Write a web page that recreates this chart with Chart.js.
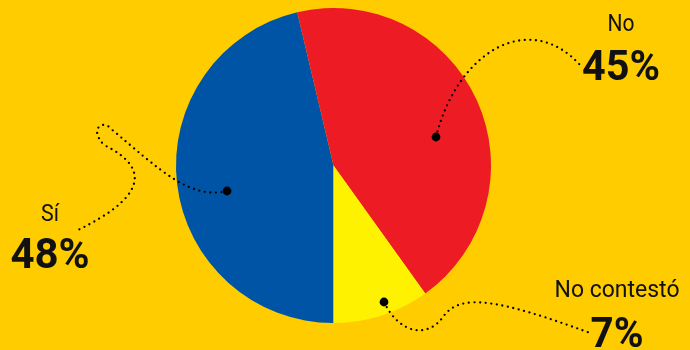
<!DOCTYPE html>
<html>
<head>
<meta charset="utf-8">
<script src="https://cdn.jsdelivr.net/npm/chart.js@4/dist/chart.umd.min.js"></script>
<style>
  html, body { margin: 0; padding: 0; background: #FFCC00; }
  canvas { display: block; }
</style>
</head>
<body>
<canvas id="pie" width="690" height="350"></canvas>
<script>
'use strict';

// DATA
const categories = ['Sí', 'No', 'No contestó'];
const labelPercents = [48, 45, 7];
// slice sizes as drawn in the picture (they do not follow the printed % exactly)
const sliceShares = [46.3, 43.8, 9.9];
const sliceColors = ['#0054A6', '#ED1C24', '#FFF200'];

// leader lines: dot, bezier segments, label block
const callouts = [
  {
    dot: [227, 191],
    path: [
      [[190, 200], [160, 170], [110, 128]],
      [[104, 120], [88, 128], [104, 145]],
      [[155, 170], [140, 200], [78, 230]],
    ],
    x: 50, nameY: 221, pctY: 268, nameW: 18, pctW: 80,
  },
  {
    dot: [436, 137],
    path: [
      [[458, 50], [530, 10], [580, 65]],
    ],
    x: 621, nameY: 31, pctY: 80, nameW: 27, pctW: 78,
  },
  {
    dot: [384, 302],
    path: [
      [[400, 335], [428, 338], [443, 317]],
      [[460, 292], [500, 300], [590, 333]],
    ],
    x: 617, nameY: 297, pctY: 347, nameW: 125, pctW: 53,
  },
];

const calloutPlugin = {
  id: 'callouts',
  afterDraw(chart) {
    const ctx = chart.ctx;
    ctx.save();
    callouts.forEach((c, i) => {
      // dotted curve
      ctx.beginPath();
      ctx.moveTo(c.dot[0], c.dot[1]);
      c.path.forEach(s => ctx.bezierCurveTo(s[0][0], s[0][1], s[1][0], s[1][1], s[2][0], s[2][1]));
      ctx.setLineDash([0, 5.6]);
      ctx.lineCap = 'round';
      ctx.lineWidth = 2.3;
      ctx.strokeStyle = '#000';
      ctx.stroke();
      ctx.setLineDash([]);
      // end dot
      ctx.beginPath();
      ctx.arc(c.dot[0], c.dot[1], 4.4, 0, Math.PI * 2);
      ctx.fillStyle = '#000';
      ctx.fill();
      // labels
      ctx.fillStyle = '#111';
      ctx.textAlign = 'center';
      ctx.textBaseline = 'alphabetic';
      ctx.font = '23px Roboto';
      ctx.fillText(categories[i], c.x, c.nameY, c.nameW);
      ctx.font = 'bold 42px Roboto';
      ctx.fillText(labelPercents[i] + '%', c.x, c.pctY, c.pctW);
    });
    ctx.restore();
  },
};

const ctx = document.getElementById('pie');

const pieChart = new Chart(ctx, {
  type: 'pie',
  data: {
    labels: categories,
    datasets: [
      {
        data: sliceShares,
        backgroundColor: sliceColors,
        borderWidth: 0,
      },
    ],
  },
  options: {
    responsive: false,
    animation: false,
    rotation: 180,
    layout: {
      padding: { top: 8, bottom: 27, left: 176, right: 199 },
    },
    plugins: {
      legend: { display: false },
      tooltip: { enabled: false },
    },
  },
  plugins: [calloutPlugin],
});
</script>
</body>
</html>
